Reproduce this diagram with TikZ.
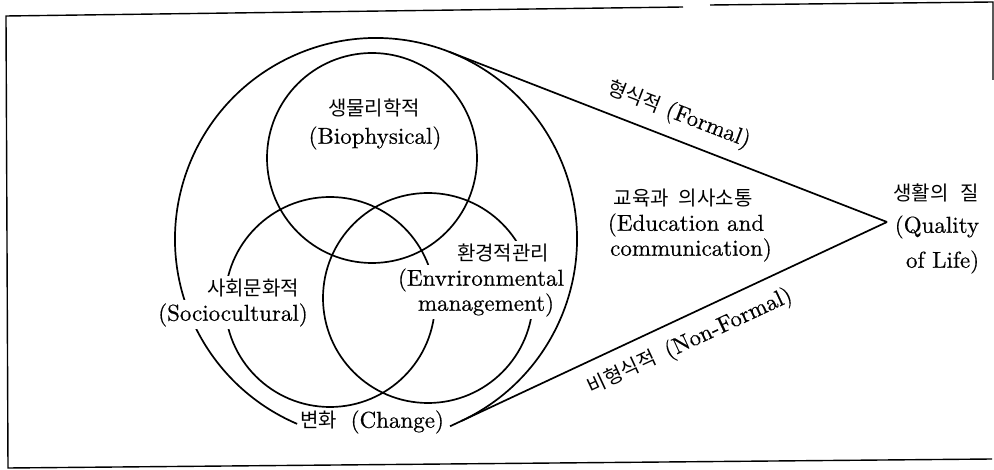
\documentclass[tikz,border=0pt]{standalone}
\usepackage{fontspec}
\newfontfamily\kr{Noto Sans CJK KR}
\newfontfamily\latinfont{lmroman10-regular.otf}[FakeBold=0.5]
\newcommand\krtext[1]{{\kr\fontsize{20}{24}\selectfont #1}}
\usetikzlibrary{calc}
\begin{document}
\begin{tikzpicture}[x=1pt,y=-1pt,line width=1.7pt,
  lat/.style={font=\latinfont\fontsize{23}{27}\selectfont, inner sep=1pt},
  kor/.style={font=\kr\fontsize{20}{24}\selectfont, inner sep=1pt},
  cover/.style={fill=white, inner ysep=3pt},
  framestyle/.style={line width=1.4pt}]
\useasboundingbox (0,0) rectangle (994,470);

% frame
\draw[framestyle] (683,7) -- (6,16) -- (8,468) -- (992,459);
\draw[framestyle] (710,5) -- (993,2) -- (993,80);

% outer circle with two tangents to the apex
\coordinate (O) at (376,239);
\coordinate (apex) at (887,222);
\coordinate (tup) at ($(O)+(-68.76:201)$);
\coordinate (tlow) at ($(O)+(64.95:201)$);
\coordinate (nfend) at ($(apex)!1.026!(tlow)$);
\draw (tlow) arc[start angle=64.95, end angle=-246.9, radius=201];
\draw (apex) -- (tup);
\draw (apex) -- (nfend);

% three inner circles
\draw (372,158) circle[radius=105];
\draw (330,302) circle[radius=105];
\draw (428,298) circle[radius=105];

% labels
\node[kor] (bioK) at (374,108) {생물리학적};
\node[lat] (bioE) at (375,138) {(Biophysical)};

\node[kor,cover] (socK) at (253,288) {사회문화적};
\node[lat,cover] (socE) at (233,315) {(Sociocultural)};

\node[kor,cover] (envK) at (503,253) {환경적관리};
\node[lat,cover] (envE) at (481,280) {(Envrironmental};
\node[lat,cover] (envM) at (486,305) {management)};

\node[lat] (chg) at (372,422) {\krtext{변화}\hspace{0.6em}(Change)};

\node[kor] (eduK) at (683,198) {교육과\hspace{0.5em}의사소통};
\node[lat] (eduE) at (686,225) {(Education and};
\node[lat] (eduC) at (691,250) {communication)};

\node[kor,anchor=east] (qolK) at (981,193) {생활의\hspace{0.6em}질};
\node[lat,anchor=east] (qolQ) at (981,227) {(Quality};
\node[lat,anchor=east] (qolL) at (981,262) {of Life)};

\node[lat,rotate=-21] (formal) at (679,115) {\krtext{형식적}\hspace{0.3em}(Formal)};
\node[lat,rotate=25] (nonformal) at (690,342) {\krtext{비형식적}\hspace{0.5em}(Non-Formal)};
\end{tikzpicture}
\end{document}
